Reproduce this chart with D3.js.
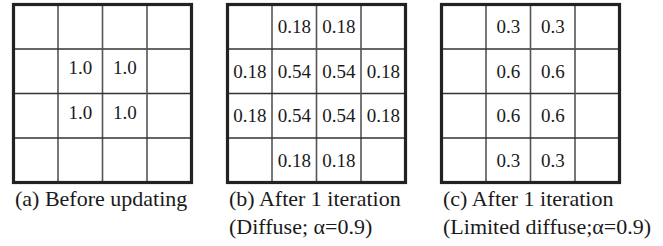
<!DOCTYPE html>
<html>
<head>
<meta charset="utf-8">
<script src="https://cdn.jsdelivr.net/npm/d3@7"></script>
<style>
  body { margin: 0; background: #fff; }
</style>
</head>
<body>
<div id="chart"></div>
<script>
// cell values, row by row ("" = empty cell)
var beforeVals = [
  ["", "", "", ""],
  ["", "1.0", "1.0", ""],
  ["", "1.0", "1.0", ""],
  ["", "", "", ""]
];
var diffuseVals = [
  ["", "0.18", "0.18", ""],
  ["0.18", "0.54", "0.54", "0.18"],
  ["0.18", "0.54", "0.54", "0.18"],
  ["", "0.18", "0.18", ""]
];
var limitedVals = [
  ["", "0.3", "0.3", ""],
  ["", "0.6", "0.6", ""],
  ["", "0.6", "0.6", ""],
  ["", "0.3", "0.3", ""]
];
var captions = [
  ["(a) Before updating"],
  ["(b) After 1 iteration", "(Diffuse; \u03b1=0.9)"],
  ["(c) After 1 iteration", "(Limited diffuse;\u03b1=0.9)"]
];
var grids = [beforeVals, diffuseVals, limitedVals];

var w = 663;
var h = 246;
var size = 178;     // grid side
var gridTop = 4.5;
var numDy = [3, 6.5, 6.5];   // baseline nudge per panel
var serif = "'Liberation Serif', 'DejaVu Serif', serif";

var svg = d3.select("#chart")
  .append("svg")
  .attr("width", w)
  .attr("height", h);

var panelX = d3.scaleLinear()
  .domain([0, 2])
  .range([13.5, 441.5]);

var cell = d3.scaleBand()
  .domain(d3.range(4))
  .range([0, size]);

grids.forEach(function(vals, p) {
  var g = svg.append("g")
    .attr("transform", "translate(" + panelX(p) + "," + gridTop + ")");

  // inner lines
  d3.range(1, 4).forEach(function(i) {
    g.append("line")
      .attr("x1", cell(i)).attr("x2", cell(i))
      .attr("y1", 0).attr("y2", size)
      .attr("stroke", "#555").attr("stroke-width", 1.6);
    g.append("line")
      .attr("x1", 0).attr("x2", size)
      .attr("y1", cell(i)).attr("y2", cell(i))
      .attr("stroke", "#333").attr("stroke-width", 1.6);
  });

  // outer border
  g.append("rect")
    .attr("x", 0).attr("y", 0)
    .attr("width", size).attr("height", size)
    .attr("fill", "none")
    .attr("stroke", "#222")
    .attr("stroke-width", 3.2);

  // numbers
  var cells = [];
  vals.forEach(function(row, r) {
    row.forEach(function(v, c) {
      if (v !== "") cells.push({r: r, c: c, v: v});
    });
  });
  g.selectAll("text.num")
    .data(cells)
    .enter()
    .append("text")
    .attr("class", "num")
    .attr("x", function(d) { return cell(d.c) + cell.bandwidth() / 2; })
    .attr("y", function(d) { return cell(d.r) + cell.bandwidth() / 2 + numDy[p]; })
    .attr("text-anchor", "middle")
    .attr("font-family", serif)
    .attr("font-size", 19)
    .attr("fill", "#1a1a1a")
    .text(function(d) { return d.v; });

  // caption
  g.selectAll("text.cap")
    .data(captions[p])
    .enter()
    .append("text")
    .attr("class", "cap")
    .attr("x", 1.5)
    .attr("y", function(d, i) { return 201.5 + i * 28; })
    .attr("font-family", serif)
    .attr("font-size", 22)
    .attr("fill", "#1a1a1a")
    .text(function(d) { return d; });
});
</script>
</body>
</html>
